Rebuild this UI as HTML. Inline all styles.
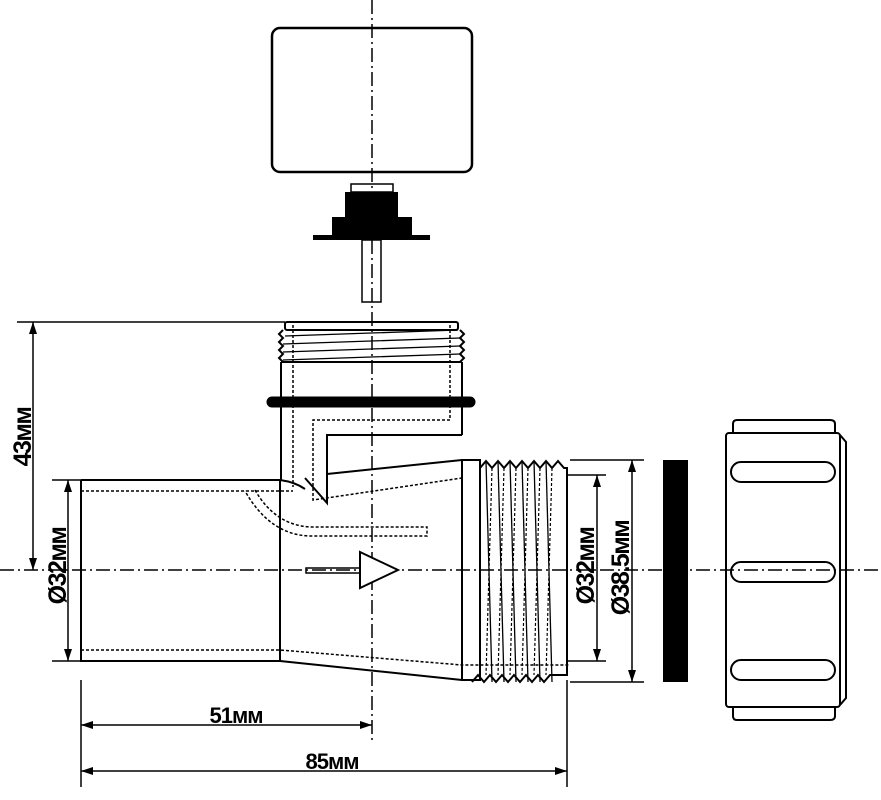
<!DOCTYPE html>
<html><head><meta charset="utf-8"><style>
html,body{margin:0;padding:0;background:#fff}
svg{display:block}
text{font-family:"Liberation Sans",sans-serif;font-weight:bold;font-size:22px;fill:#000;letter-spacing:-1px}
text.v{font-size:25px;letter-spacing:-1.5px}
</style></head><body>
<svg width="881" height="800" viewBox="0 0 881 800" xmlns="http://www.w3.org/2000/svg">
<defs>
<marker id="a" viewBox="0 0 12 8" refX="12" refY="4" markerWidth="12" markerHeight="8" orient="auto-start-reverse" markerUnits="userSpaceOnUse"><path d="M0,0 L12,4 L0,8z" fill="#000"/></marker>
</defs>
<g fill="none" stroke="#000" stroke-width="2">
<line x1="372" y1="0" x2="372" y2="740" stroke-width="1.5" stroke-dasharray="14,4,2,4"/>
<line x1="0" y1="570" x2="881" y2="570" stroke-width="1.5" stroke-dasharray="14,4,2,4"/>
<rect x="272" y="28" width="200" height="144" rx="8" stroke-width="2.5"/>
<rect x="351" y="184" width="42" height="8" stroke-width="1.5"/>
<path d="M345,192 H398 V217 H412 V235 H430 V240 H313 V235 H332 V217 H345Z" fill="#000" stroke="none"/>
<rect x="362" y="240" width="19" height="62" stroke-width="1.5"/>
<rect x="285" y="322" width="173" height="8" rx="2"/>
<path d="M283,330 l-4,4 l4,4 l-4,4 l4,4 l-4,4 l4,4 l-4,4 l4,4"/>
<path d="M460,330 l4,4 l-4,4 l4,4 l-4,4 l4,4 l-4,4 l4,4 l-4,4"/>
<path d="M285,336 L458,330 M283,344 L460,338 M283,352 L460,346 M283,360 L460,354" stroke-width="1.3"/>
<line x1="281" y1="362" x2="462" y2="362"/>
<line x1="281" y1="362" x2="281" y2="480"/>
<line x1="462" y1="362" x2="462" y2="435"/>
<line x1="272" y1="402" x2="470" y2="402" stroke-width="11" stroke-linecap="round"/>
<path d="M462,435 H327 V503 L305,478"/>
<path d="M293,325 V487 M450,325 V420 H313 V500 L462,478" stroke-width="1.5" stroke-dasharray="3,2"/>
<path d="M81,480 H280 Q295,482 305,489"/>
<path d="M81,480 V661 H280"/>
<line x1="280" y1="480" x2="280" y2="661"/>
<line x1="327" y1="474" x2="462" y2="460"/>
<line x1="280" y1="661" x2="462" y2="680"/>
<rect x="462" y="460" width="18" height="220"/>
<path d="M81,491 H293 M81,650 H280 L462,665 L570,665" stroke-width="1.5" stroke-dasharray="3,2"/>
<path d="M255,490 Q275,525 310,527 H427 V536 H310 Q270,535 245,491" stroke-width="1.5" stroke-dasharray="3,2"/>
<rect x="306" y="568" width="54" height="5" stroke-width="1.5"/>
<path d="M360,552 L398,570 L360,588Z" fill="#fff"/>
<path d="M480,468 l6,-7 l6,7 l6,-7 l6,7 l6,-7 l6,7 l6,-7 l6,7 l6,-7 l6,7 l6,-7 l6,7 l6,-7 l6,7 H567 V675 H550 l-6,7 l-6,-7 l-6,7 l-6,-7 l-6,7 l-6,-7 l-6,7 l-6,-7 l-6,7 l-6,-7 l-6,7 l-6,-7 l-6,7"/>
<path d="M486,461 L492,682 M498,461 L504,682 M510,461 L516,682 M522,461 L528,682 M534,461 L540,682 M546,461 L552,682" stroke-width="1.3"/>
<path d="M492,468 L486,675 M504,468 L498,675 M516,468 L510,675 M528,468 L522,675 M540,468 L534,675 M552,468 L546,675" stroke-width="1.2" stroke-dasharray="3,2"/>
<rect x="663" y="460" width="25" height="222" fill="#000" stroke="none"/>
<path d="M733,433 V424 Q733,420 737,420 H830 Q835,420 835,424 V433"/>
<path d="M733,707 V716 Q733,720 737,720 H830 Q835,720 835,716 V707"/>
<rect x="726" y="433" width="114" height="274" rx="3"/>
<path d="M840,435 L846,442 V698 L840,705"/>
<rect x="731" y="462" width="104" height="20" rx="10"/>
<rect x="731" y="562" width="104" height="20" rx="10"/>
<rect x="731" y="660" width="104" height="20" rx="10"/>
<g stroke-width="1.5">
<line x1="17" y1="322" x2="285" y2="322"/>
<line x1="33" y1="322" x2="33" y2="570" marker-start="url(#a)" marker-end="url(#a)"/>
<line x1="52" y1="480" x2="81" y2="480"/>
<line x1="52" y1="661" x2="81" y2="661"/>
<line x1="68" y1="480" x2="68" y2="661" marker-start="url(#a)" marker-end="url(#a)"/>
<line x1="567" y1="475" x2="606" y2="475"/>
<line x1="567" y1="661" x2="606" y2="661"/>
<line x1="597" y1="475" x2="597" y2="661" marker-start="url(#a)" marker-end="url(#a)"/>
<line x1="570" y1="460" x2="644" y2="460"/>
<line x1="570" y1="682" x2="644" y2="682"/>
<line x1="632" y1="460" x2="632" y2="682" marker-start="url(#a)" marker-end="url(#a)"/>
<line x1="81" y1="680" x2="81" y2="787"/>
<line x1="567" y1="680" x2="567" y2="787"/>
<line x1="81" y1="725" x2="372" y2="725" marker-start="url(#a)" marker-end="url(#a)"/>
<line x1="81" y1="771" x2="567" y2="771" marker-start="url(#a)" marker-end="url(#a)"/>
</g>
</g>
<text x="236" y="723" text-anchor="middle">51мм</text>
<text x="332" y="769" text-anchor="middle">85мм</text>
<text class="v" transform="translate(31,437) rotate(-90)" text-anchor="middle">43мм</text>
<text class="v" transform="translate(66,566) rotate(-90)" text-anchor="middle">Ø32мм</text>
<text class="v" transform="translate(594,566) rotate(-90)" text-anchor="middle">Ø32мм</text>
<text class="v" transform="translate(629,568) rotate(-90)" text-anchor="middle">Ø38.5мм</text>
</svg>
</body></html>
